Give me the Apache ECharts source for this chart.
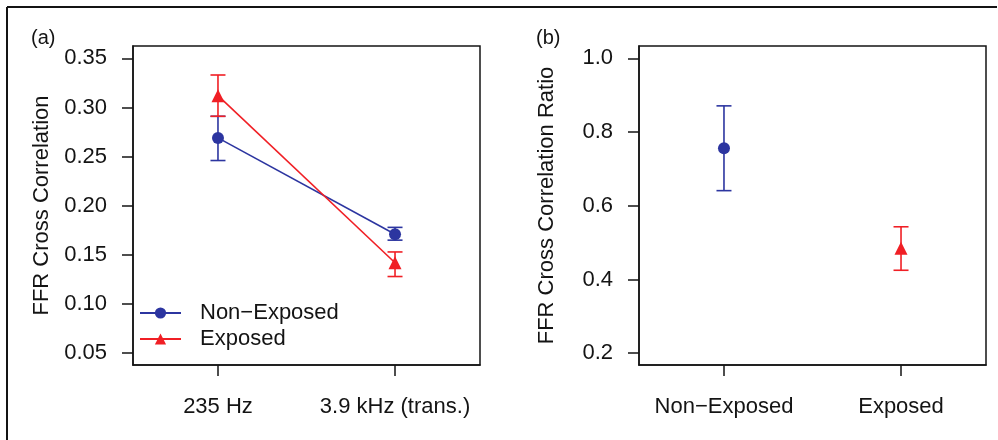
<!DOCTYPE html>
<html>
<head>
<meta charset="utf-8">
<script src="https://cdn.jsdelivr.net/npm/echarts@6/dist/echarts.min.js"></script>
<style>
html,body{margin:0;padding:0;background:#fff;}
#c{width:998px;height:440px;}
</style>
</head>
<body>
<div id="c"></div>
<script>
// ---- data ----
const freqCategories = ['235 Hz', '3.9 kHz (trans.)'];
const groupCategories = ['Non\u2212Exposed', 'Exposed'];
const seriesNames = ['Non\u2212Exposed', 'Exposed'];

const nonExposedCorr = [0.269, 0.171];
const nonExposedLow  = [0.246, 0.165];
const nonExposedHigh = [0.291, 0.178];

const exposedCorr = [0.312, 0.142];
const exposedLow  = [0.291, 0.128];
const exposedHigh = [0.333, 0.153];

const ratioValues = [0.756, 0.485];
const ratioLow    = [0.641, 0.425];
const ratioHigh   = [0.871, 0.543];

const corrTicks  = [0.05, 0.10, 0.15, 0.20, 0.25, 0.30, 0.35];
const ratioTicks = [0.2, 0.4, 0.6, 0.8, 1.0];

// ---- style ----
const BLUE = '#2c35a0';
const RED = '#f01f25';
const INK = '#141414';
const FONT = 'Liberation Sans';
const FS = 22;

const pts = (vals) => vals.map((v, i) => [i + 1, v]);
const bars = (lo, hi) => lo.map((v, i) => [i + 1, v, hi[i]]);

function errRender(color) {
  return function (params, api) {
    const x = api.value(0);
    const a = api.coord([x, api.value(1)]);
    const b = api.coord([x, api.value(2)]);
    const w = 7.5;
    const st = { stroke: color, lineWidth: 1.6 };
    return {
      type: 'group',
      children: [
        { type: 'line', shape: { x1: a[0], y1: a[1], x2: b[0], y2: b[1] }, style: st },
        { type: 'line', shape: { x1: a[0] - w, y1: a[1], x2: a[0] + w, y2: a[1] }, style: st },
        { type: 'line', shape: { x1: b[0] - w, y1: b[1], x2: b[0] + w, y2: b[1] }, style: st }
      ]
    };
  };
}

function xAxisFor(gi, cats) {
  return {
    type: 'value', gridIndex: gi, min: 0.52, max: 2.48,
    splitLine: { show: false },
    axisLine: { show: true, lineStyle: { color: INK, width: 1.5 } },
    axisTick: { show: true, customValues: [1, 2], length: 11, lineStyle: { color: INK, width: 1.5 } },
    axisLabel: {
      show: true, customValues: [1, 2], margin: 31,
      formatter: (v) => cats[Math.round(v) - 1],
      color: INK, fontFamily: FONT, fontSize: FS
    }
  };
}

function yAxisFor(gi, min, max, ticks, dec, name, gap) {
  return {
    type: 'value', gridIndex: gi, min: min, max: max,
    splitLine: { show: false },
    axisLine: { show: true, lineStyle: { color: INK, width: 1.5 } },
    axisTick: { show: true, customValues: ticks, length: 11, lineStyle: { color: INK, width: 1.5 } },
    axisLabel: {
      show: true, customValues: ticks, margin: 26,
      formatter: (v) => v.toFixed(dec),
      color: INK, fontFamily: FONT, fontSize: FS
    },
    name: name, nameLocation: 'middle', nameGap: gap, nameRotate: 90,
    nameTextStyle: { color: INK, fontFamily: FONT, fontSize: FS }
  };
}

const chart = echarts.init(document.getElementById('c'), null, { renderer: 'canvas' });
chart.setOption({
  backgroundColor: '#ffffff',
  animation: false,
  title: [
    { text: '(a)', left: 31, top: 28, padding: 0, textStyle: { fontFamily: FONT, fontSize: 20, fontWeight: 'normal', color: INK } },
    { text: '(b)', left: 536, top: 28, padding: 0, textStyle: { fontFamily: FONT, fontSize: 20, fontWeight: 'normal', color: INK } }
  ],
  grid: [
    { left: 133, top: 46, width: 347, height: 319, show: true, borderColor: INK, borderWidth: 1.5, backgroundColor: 'transparent' },
    { left: 639, top: 46, width: 347, height: 319, show: true, borderColor: INK, borderWidth: 1.5, backgroundColor: 'transparent' }
  ],
  xAxis: [xAxisFor(0, freqCategories), xAxisFor(1, groupCategories)],
  yAxis: [
    yAxisFor(0, 0.038, 0.3625, corrTicks, 2, 'FFR Cross Correlation', 80),
    yAxisFor(1, 0.168, 1.0334, ratioTicks, 1, 'FFR Cross Correlation Ratio', 81)
  ],
  legend: {
    data: seriesNames,
    orient: 'vertical', left: 139, top: 300, padding: 0,
    itemWidth: 41, itemHeight: 14, itemGap: 0,
    textStyle: { fontFamily: FONT, fontSize: FS, lineHeight: 26, color: INK, padding: [0, 0, 0, 14] }
  },
  graphic: [
    { type: 'line', shape: { x1: 7, y1: 7, x2: 997, y2: 7 }, style: { stroke: INK, lineWidth: 2 } },
    { type: 'line', shape: { x1: 7, y1: 7, x2: 7, y2: 440 }, style: { stroke: INK, lineWidth: 2 } }
  ],
  series: [
    { type: 'custom', name: 'errNE', xAxisIndex: 0, yAxisIndex: 0, renderItem: errRender(BLUE), data: bars(nonExposedLow, nonExposedHigh), z: 2 },
    { type: 'custom', name: 'errE', xAxisIndex: 0, yAxisIndex: 0, renderItem: errRender(RED), data: bars(exposedLow, exposedHigh), z: 2 },
    {
      type: 'line', name: seriesNames[0], xAxisIndex: 0, yAxisIndex: 0, data: pts(nonExposedCorr),
      symbol: 'circle', symbolSize: 12, showAllSymbol: true,
      lineStyle: { color: BLUE, width: 1.6 }, itemStyle: { color: BLUE, opacity: 1 }, color: BLUE, z: 3
    },
    {
      type: 'line', name: seriesNames[1], xAxisIndex: 0, yAxisIndex: 0, data: pts(exposedCorr),
      symbol: 'triangle', symbolSize: 13, showAllSymbol: true,
      lineStyle: { color: RED, width: 1.6 }, itemStyle: { color: RED, opacity: 1 }, color: RED, z: 4
    },
    { type: 'custom', name: 'errRatio', xAxisIndex: 1, yAxisIndex: 1, renderItem: function (p, api) { return errRender(p.dataIndex === 0 ? BLUE : RED)(p, api); }, data: bars(ratioLow, ratioHigh), z: 2 },
    {
      type: 'scatter', name: 'ratio', xAxisIndex: 1, yAxisIndex: 1,
      data: ratioValues.map((v, i) => ({
        value: [i + 1, v],
        symbol: i === 0 ? 'circle' : 'triangle',
        symbolSize: i === 0 ? 12 : 13,
        itemStyle: { color: i === 0 ? BLUE : RED, opacity: 1 }
      })),
      z: 3
    }
  ]
});
</script>
</body>
</html>
